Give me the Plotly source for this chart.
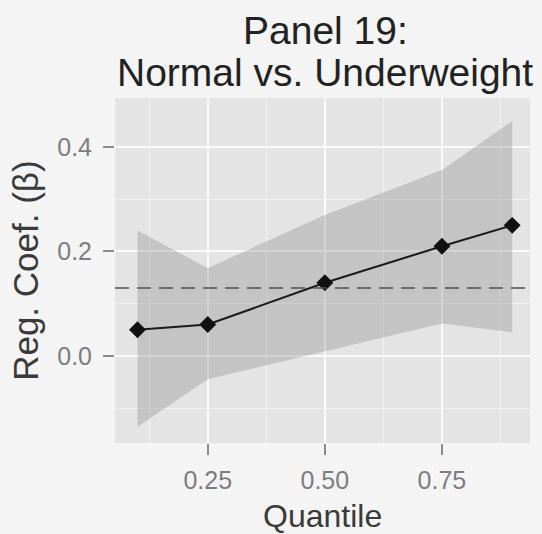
import plotly.graph_objects as go

# Quantile regression estimates with confidence band
quantiles = [0.1, 0.25, 0.5, 0.75, 0.9]
coef = [0.05, 0.06, 0.14, 0.21, 0.25]
ci_lower = [-0.136, -0.045, 0.009, 0.062, 0.045]
ci_upper = [0.24, 0.168, 0.27, 0.356, 0.45]
ols_coef = 0.13

x_ticks = [0.25, 0.5, 0.75]
x_tick_text = ["0.25", "0.50", "0.75"]
x_minor = [0.125, 0.375, 0.625, 0.875]
y_ticks = [0.0, 0.2, 0.4]
y_tick_text = ["0.0", "0.2", "0.4"]
y_minor = [-0.1, 0.1, 0.3]

title_lines = ["Panel 19:", "Normal vs. Underweight"]
x_title = "Quantile"
y_title = "Reg. Coef. (β)"

FONT = "Liberation Sans, Arial, sans-serif"

fig = go.Figure()

# confidence ribbon
fig.add_trace(go.Scatter(
    x=quantiles + quantiles[::-1],
    y=ci_upper + ci_lower[::-1],
    mode="lines",
    fill="toself",
    fillcolor="rgba(135,135,135,0.34)",
    line=dict(width=0),
    hoverinfo="skip",
    showlegend=False,
))

# OLS reference line
fig.add_hline(y=ols_coef, line=dict(color="#505050", width=1.7, dash="14px,8px"))

# quantile estimates
fig.add_trace(go.Scatter(
    x=quantiles, y=coef,
    mode="lines+markers",
    line=dict(color="#1a1a1a", width=2),
    marker=dict(symbol="diamond", size=13, color="#111111"),
    showlegend=False,
))

axis_common = dict(
    showline=False, zeroline=False,
    showgrid=True, gridcolor="#fafafa", gridwidth=1.6,
    ticks="outside", ticklen=11, tickwidth=1.5, tickcolor="#8a8a8a",
    tickfont=dict(family=FONT, size=25, color="#7d7d7d"),
)

fig.update_xaxes(
    range=[0.052, 0.938],
    tickvals=x_ticks, ticktext=x_tick_text,
    ticklabelstandoff=4,
    minor=dict(tickvals=x_minor, showgrid=True, gridcolor="#f2f2f2", gridwidth=0.8, ticks=""),
    **axis_common,
)
fig.update_yaxes(
    range=[-0.167, 0.494],
    tickvals=y_ticks, ticktext=y_tick_text,
    ticklabelstandoff=6,
    minor=dict(tickvals=y_minor, showgrid=True, gridcolor="#f2f2f2", gridwidth=0.8, ticks=""),
    **axis_common,
)

annotations = [
    dict(text=title_lines[0], x=0.507, y=1.197, xref="paper", yref="paper",
         xanchor="center", yanchor="middle", showarrow=False,
         font=dict(family=FONT, size=39, color="#222222")),
    dict(text=title_lines[1], x=0.507, y=1.074, xref="paper", yref="paper",
         xanchor="center", yanchor="middle", showarrow=False,
         font=dict(family=FONT, size=39, color="#222222")),
    dict(text=x_title, x=0.5, y=-0.212, xref="paper", yref="paper",
         xanchor="center", yanchor="middle", showarrow=False,
         font=dict(family=FONT, size=32, color="#3a3a3a")),
    dict(text=y_title, x=-0.216, y=0.5, xref="paper", yref="paper",
         xanchor="center", yanchor="middle", showarrow=False, textangle=-90,
         font=dict(family=FONT, size=35, color="#3a3a3a")),
]

fig.update_layout(
    width=542, height=534,
    margin=dict(l=115, r=12, t=98, b=91),
    paper_bgcolor="#f4f4f4",
    plot_bgcolor="#e4e4e4",
    annotations=annotations,
    showlegend=False,
)

fig.write_html("out.html")
